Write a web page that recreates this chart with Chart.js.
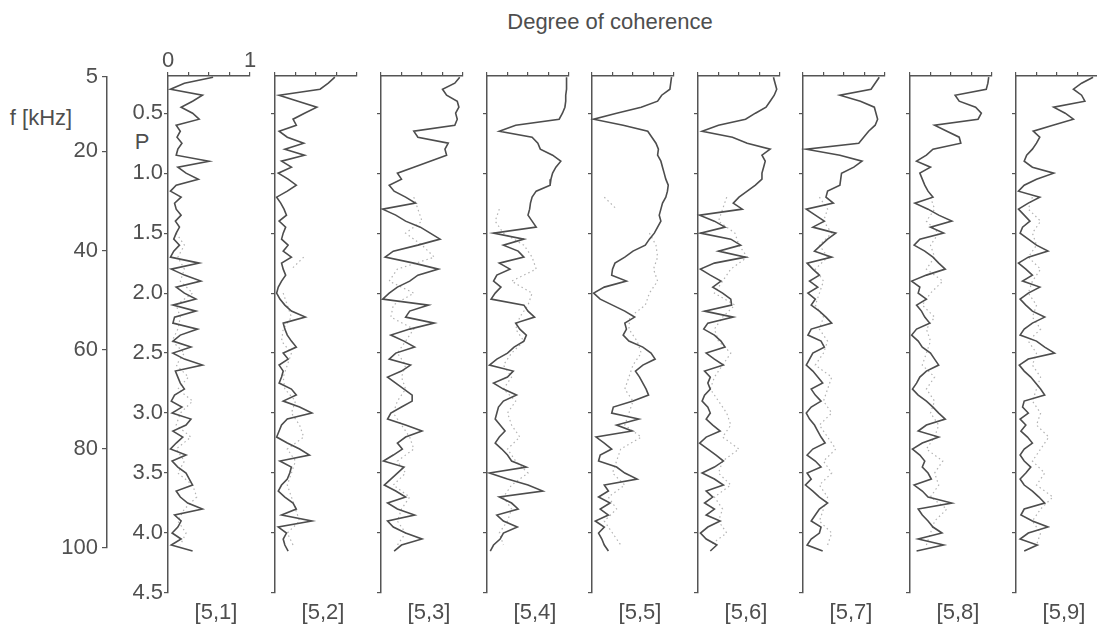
<!DOCTYPE html>
<html>
<head>
<meta charset="utf-8">
<script src="https://cdn.jsdelivr.net/npm/chart.js@4.4.1/dist/chart.umd.min.js"></script>
<style>
  body { margin: 0; background: #fff; width: 1097px; height: 630px; overflow: hidden; position: relative;
         font-family: Arial, "Liberation Sans", sans-serif; color: #4e4e4e; }
  .lbl { position: absolute; font-size: 22px; white-space: nowrap; transform: translate(-50%, -50%); }
  canvas { position: absolute; top: 0; }
</style>
</head>
<body>
<div class="lbl" style="left:610px;top:22px">Degree of coherence</div>
<div class="lbl" style="left:41px;top:118px">f [kHz]</div>
<div class="lbl" style="left:142px;top:142px">P</div>
<div id="panels"></div>

<script>
// panel names, shown under each strip
const panelNames = ['[5,1]', '[5,2]', '[5,3]', '[5,4]', '[5,5]', '[5,6]', '[5,7]', '[5,8]', '[5,9]'];

// P values (vertical axis) of the dark curves
const P = [0.20, 0.25, 0.30, 0.35, 0.40, 0.45, 0.50, 0.55, 0.60, 0.65,
           0.70, 0.75, 0.80, 0.85, 0.90, 0.95, 1.00, 1.05, 1.10, 1.15,
           1.20, 1.25, 1.30, 1.35, 1.40, 1.45, 1.50, 1.55, 1.60, 1.65,
           1.70, 1.75, 1.80, 1.85, 1.90, 1.95, 2.00, 2.05, 2.10, 2.15,
           2.20, 2.25, 2.30, 2.35, 2.40, 2.45, 2.50, 2.55, 2.60, 2.65,
           2.70, 2.75, 2.80, 2.85, 2.90, 2.95, 3.00, 3.05, 3.10, 3.15,
           3.20, 3.25, 3.30, 3.35, 3.40, 3.45, 3.50, 3.55, 3.60, 3.65,
           3.70, 3.75, 3.80, 3.85, 3.90, 3.95, 4.00, 4.05, 4.10, 4.15];

// P values of the faint dotted curves
const lightP = [1.2, 1.3, 1.4, 1.5, 1.6, 1.7, 1.8, 1.9, 2.0, 2.1,
                2.2, 2.3, 2.4, 2.5, 2.6, 2.7, 2.8, 2.9, 3.0, 3.1,
                3.2, 3.3, 3.4, 3.5, 3.6, 3.7, 3.8, 3.9, 4.0, 4.1, 4.2];

// tick labels
const pTicks = [0.5, 1.0, 1.5, 2.0, 2.5, 3.0, 3.5, 4.0, 4.5];
const fTicks = [5, 20, 40, 60, 80, 100];
const cohTicks = [0, 0.25, 0.5, 0.75, 1];

// degree of coherence, dark curves
const coh51 = [0.55,0.20,0.03,0.42,0.30,0.16,0.30,0.38,0.10,0.15,
               0.11,0.17,0.12,0.10,0.50,0.12,0.22,0.37,0.10,0.03,
               0.16,0.08,0.10,0.16,0.09,0.14,0.10,0.07,0.14,0.07,
               0.03,0.38,0.04,0.20,0.40,0.10,0.20,0.34,0.06,0.34,
               0.08,0.06,0.36,0.15,0.06,0.28,0.06,0.20,0.42,0.09,
               0.12,0.15,0.20,0.08,0.04,0.17,0.05,0.28,0.22,0.06,
               0.18,0.10,0.03,0.22,0.05,0.12,0.22,0.26,0.30,0.10,
               0.15,0.24,0.42,0.08,0.16,0.12,0.05,0.16,0.04,0.30];
const coh52 = [0.73,0.65,0.55,0.05,0.28,0.51,0.36,0.22,0.26,0.05,
               0.15,0.35,0.12,0.36,0.08,0.20,0.04,0.16,0.26,0.15,
               0.02,0.07,0.11,0.14,0.05,0.13,0.10,0.08,0.16,0.10,
               0.20,0.08,0.10,0.13,0.08,0.04,0.02,0.06,0.12,0.20,
               0.37,0.10,0.12,0.15,0.20,0.26,0.10,0.16,0.05,0.10,
               0.08,0.05,0.20,0.26,0.10,0.30,0.45,0.15,0.08,0.05,
               0.02,0.15,0.30,0.42,0.06,0.20,0.18,0.15,0.08,0.04,
               0.12,0.22,0.26,0.08,0.45,0.04,0.14,0.10,0.12,0.16];
const coh53 = [0.96,0.90,0.75,0.80,0.93,0.95,0.91,0.93,0.90,0.40,
               0.45,0.82,0.78,0.80,0.60,0.40,0.20,0.25,0.10,0.16,
               0.30,0.42,0.02,0.18,0.30,0.48,0.60,0.72,0.45,0.15,
               0.05,0.40,0.70,0.45,0.35,0.20,0.10,0.02,0.58,0.35,
               0.30,0.65,0.35,0.12,0.28,0.41,0.18,0.10,0.36,0.25,
               0.08,0.18,0.28,0.38,0.38,0.25,0.12,0.08,0.30,0.50,
               0.30,0.20,0.26,0.15,0.03,0.28,0.20,0.12,0.04,0.18,
               0.30,0.08,0.20,0.41,0.08,0.15,0.30,0.50,0.25,0.16];
const coh54 = [0.97,0.97,0.97,0.96,0.96,0.95,0.92,0.88,0.35,0.15,
               0.55,0.62,0.65,0.80,0.90,0.84,0.80,0.78,0.77,0.60,
               0.55,0.53,0.52,0.50,0.55,0.60,0.08,0.45,0.20,0.38,
               0.45,0.15,0.28,0.12,0.08,0.17,0.10,0.05,0.45,0.50,
               0.58,0.35,0.40,0.48,0.45,0.33,0.25,0.12,0.03,0.32,
               0.25,0.08,0.20,0.36,0.20,0.14,0.12,0.10,0.16,0.22,
               0.15,0.10,0.18,0.25,0.30,0.48,0.03,0.25,0.50,0.68,
               0.15,0.30,0.38,0.12,0.20,0.37,0.20,0.16,0.08,0.04];
const coh55 = [0.97,0.96,0.95,0.85,0.80,0.60,0.30,0.02,0.38,0.68,
               0.73,0.78,0.81,0.80,0.84,0.86,0.88,0.90,0.93,0.92,
               0.90,0.86,0.84,0.82,0.84,0.80,0.76,0.70,0.65,0.50,
               0.40,0.28,0.25,0.24,0.42,0.15,0.02,0.10,0.25,0.40,
               0.52,0.40,0.42,0.38,0.45,0.62,0.72,0.77,0.62,0.53,
               0.58,0.62,0.66,0.69,0.50,0.26,0.24,0.57,0.30,0.49,
               0.05,0.15,0.24,0.10,0.08,0.30,0.40,0.55,0.15,0.20,
               0.08,0.22,0.10,0.20,0.04,0.15,0.08,0.12,0.15,0.20];
const coh56 = [0.92,0.94,0.96,0.93,0.88,0.83,0.70,0.58,0.25,0.05,
               0.42,0.60,0.88,0.78,0.82,0.80,0.78,0.78,0.70,0.60,
               0.50,0.43,0.54,0.02,0.20,0.33,0.03,0.40,0.52,0.25,
               0.58,0.20,0.03,0.15,0.28,0.18,0.30,0.40,0.41,0.08,
               0.43,0.12,0.07,0.20,0.28,0.33,0.10,0.20,0.31,0.08,
               0.15,0.12,0.15,0.08,0.05,0.12,0.15,0.10,0.18,0.27,
               0.10,0.02,0.12,0.22,0.31,0.20,0.05,0.20,0.31,0.10,
               0.18,0.08,0.20,0.10,0.27,0.12,0.03,0.10,0.23,0.15];
const coh57 = [0.93,0.88,0.83,0.45,0.70,0.87,0.89,0.91,0.88,0.80,
               0.74,0.68,0.04,0.45,0.72,0.62,0.47,0.46,0.45,0.30,
               0.28,0.37,0.04,0.15,0.26,0.12,0.40,0.30,0.22,0.14,
               0.35,0.05,0.12,0.20,0.08,0.18,0.06,0.15,0.10,0.20,
               0.28,0.35,0.10,0.06,0.22,0.26,0.12,0.08,0.04,0.12,
               0.18,0.24,0.10,0.15,0.22,0.10,0.04,0.08,0.14,0.18,
               0.22,0.27,0.12,0.05,0.15,0.22,0.05,0.10,0.03,0.12,
               0.20,0.30,0.20,0.15,0.10,0.22,0.20,0.10,0.05,0.24];
const coh58 = [0.96,0.95,0.93,0.55,0.60,0.80,0.87,0.83,0.30,0.45,
               0.60,0.62,0.28,0.20,0.08,0.25,0.12,0.15,0.18,0.22,
               0.28,0.06,0.22,0.35,0.51,0.25,0.41,0.12,0.05,0.18,
               0.28,0.35,0.43,0.20,0.02,0.12,0.10,0.20,0.08,0.14,
               0.18,0.24,0.08,0.02,0.10,0.15,0.25,0.30,0.35,0.20,
               0.12,0.08,0.03,0.10,0.20,0.28,0.35,0.43,0.20,0.10,
               0.35,0.15,0.03,0.12,0.18,0.15,0.22,0.26,0.05,0.15,
               0.22,0.51,0.10,0.15,0.22,0.28,0.39,0.10,0.41,0.08];
const coh59 = [0.94,0.80,0.70,0.80,0.84,0.46,0.60,0.70,0.45,0.21,
               0.29,0.25,0.20,0.13,0.10,0.20,0.46,0.25,0.10,0.03,
               0.29,0.15,0.03,0.10,0.17,0.08,0.05,0.15,0.25,0.39,
               0.15,0.03,0.12,0.20,0.08,0.29,0.15,0.05,0.12,0.20,
               0.35,0.20,0.10,0.05,0.25,0.35,0.47,0.15,0.04,0.10,
               0.18,0.24,0.30,0.35,0.10,0.08,0.15,0.05,0.12,0.06,
               0.14,0.20,0.10,0.05,0.10,0.18,0.12,0.05,0.10,0.20,
               0.28,0.35,0.10,0.06,0.20,0.39,0.15,0.05,0.26,0.10];

// faint dotted curves (null where nothing is visible)
const faint51 = [null,null,null,0.10,0.20,0.12,0.20,0.15,0.30,0.10,
                 0.15,0.12,0.05,0.20,0.10,0.25,0.12,0.30,0.15,0.10,
                 0.28,0.10,0.20,0.12,0.30,0.35,0.20,0.12,0.22,0.15,null];
const faint52 = [null,0.30,null,null,null,0.35,0.20,null,0.10,0.15,
                 0.20,0.10,0.08,0.20,0.15,0.10,0.12,0.25,0.20,0.30,
                 0.35,0.15,0.25,0.20,0.15,0.20,0.25,0.30,0.15,0.22,null];
const faint53 = [0.40,0.45,0.50,0.30,0.50,0.65,0.20,0.10,0.40,0.15,
                 0.12,0.40,0.30,0.20,0.30,0.25,0.30,0.20,0.15,0.25,
                 0.35,0.40,0.20,0.30,0.15,0.35,0.25,0.20,0.30,0.20,null];
const faint54 = [null,0.15,0.10,0.20,0.45,0.55,0.60,0.30,0.55,0.50,
                 0.40,0.35,0.45,0.30,0.20,0.30,0.20,0.35,0.25,0.30,
                 0.40,0.25,0.35,0.50,0.30,0.20,0.30,0.25,0.15,0.20,null];
const faint55 = [0.15,0.30,null,0.70,0.78,0.80,0.75,0.80,0.70,0.65,
                 0.46,0.45,0.55,0.60,0.50,0.45,0.40,0.50,0.45,0.40,
                 0.60,0.35,0.30,0.25,0.40,0.20,0.30,0.15,0.25,0.35,null];
const faint56 = [0.35,0.30,0.25,0.45,0.50,0.60,0.40,0.30,0.20,0.45,
                 0.30,0.20,0.25,0.40,0.30,0.20,0.15,0.25,0.35,0.40,
                 0.30,0.50,0.30,0.25,0.40,0.20,0.30,0.25,0.35,0.15,null];
const faint57 = [0.20,0.30,0.25,0.35,0.20,0.30,0.15,0.25,0.20,0.15,
                 0.25,0.20,0.30,0.25,0.15,0.35,0.30,0.25,0.35,0.20,
                 0.30,0.40,0.25,0.35,0.20,0.30,0.25,0.20,0.35,0.30,null];
const faint58 = [0.25,0.30,0.20,0.35,0.25,0.30,0.20,0.40,0.25,0.15,
                 0.30,0.20,0.25,0.20,0.15,0.30,0.20,0.30,0.25,0.35,
                 0.30,0.20,0.40,0.30,0.35,0.25,0.45,0.30,0.25,0.20,null];
const faint59 = [0.20,0.15,0.30,0.20,0.25,0.15,0.30,0.20,0.15,0.25,
                 0.20,0.30,0.15,0.25,0.20,0.30,0.25,0.20,0.30,0.25,
                 0.40,0.30,0.20,0.35,0.25,0.45,0.30,0.20,0.30,0.25,null];

const darkCurves = [coh51, coh52, coh53, coh54, coh55, coh56, coh57, coh58, coh59];
const faintCurves = [faint51, faint52, faint53, faint54, faint55, faint56, faint57, faint58, faint59];

// page layout (pixels)
const panelLeft = [168, 275, 381, 487, 592, 698, 803, 910, 1016];
const panelW = 82;
const plotTop = 76, plotBottom = 593;
const fTop = 77, fBottom = 548, fAxisX = 107;

const INK = '#505050';
Chart.defaults.font.family = 'Arial, "Liberation Sans", sans-serif';
Chart.defaults.font.size = 22;
Chart.defaults.color = INK;
Chart.defaults.animation = false;

const holder = document.getElementById('panels');

function makeCanvas(left, width) {
  const c = document.createElement('canvas');
  c.width = width; c.height = 630;
  c.style.left = left + 'px';
  c.style.width = width + 'px'; c.style.height = '630px';
  holder.appendChild(c);
  return c;
}

function panelChart(k) {
  const first = k === 0;
  const yw = first ? 60 : 8;
  const padR = 10;
  const canvas = makeCanvas(panelLeft[k] - yw, yw + panelW + padR);

  const dark = darkCurves[k].map((v, i) => ({ x: v, y: P[i] }));
  const faint = faintCurves[k].map((v, i) => ({ x: v, y: lightP[i] }));

  new Chart(canvas, {
    type: 'scatter',
    data: {
      datasets: [
        { data: dark, showLine: true, borderColor: '#4d4d4d', borderWidth: 1.6,
          pointRadius: 0, tension: 0, clip: 6 },
        { data: faint, showLine: true, borderColor: '#b3b3b3', borderWidth: 1.2,
          borderDash: [1.5, 3], pointRadius: 0, spanGaps: false, clip: 6 }
      ]
    },
    options: {
      responsive: false,
      layout: { padding: { top: 0, bottom: 630 - plotBottom, left: 0, right: padR } },
      plugins: { legend: { display: false }, tooltip: { enabled: false } },
      scales: {
        x: {
          type: 'linear', position: 'top', min: 0, max: 1,
          afterFit: s => { s.height = plotTop; },
          afterBuildTicks: s => { s.ticks = cohTicks.map(v => ({ value: v })); },
          grid: { drawOnChartArea: false, drawTicks: true, tickLength: 4, color: '#555', lineWidth: 1.2 },
          border: { display: true, color: '#555', width: 1.5 },
          ticks: { padding: -2, maxRotation: 0,
                   callback: v => first ? (v === 0 ? '0' : v === 1 ? '1' : '') : '' }
        },
        y: {
          type: 'linear', position: 'left', reverse: true, min: 0.19, max: 4.5,
          afterFit: s => { s.width = yw; },
          afterBuildTicks: s => { s.ticks = pTicks.map(v => ({ value: v })); },
          grid: { drawOnChartArea: false, drawTicks: true, tickLength: 4, color: '#555', lineWidth: 1.2 },
          border: { display: true, color: '#555', width: 1.5 },
          ticks: { padding: 1, callback: v => first ? v.toFixed(1) : '' }
        }
      }
    }
  });

  const lbl = document.createElement('div');
  lbl.className = 'lbl';
  lbl.style.left = (panelLeft[k] + 48) + 'px';
  lbl.style.top = '612px';
  lbl.textContent = panelNames[k];
  holder.appendChild(lbl);
}

// frequency axis on the far left
function freqAxis() {
  const canvas = makeCanvas(0, fAxisX + 6);
  new Chart(canvas, {
    type: 'scatter',
    data: { datasets: [{ data: [] }] },
    options: {
      responsive: false,
      layout: { padding: { top: fTop, bottom: 630 - fBottom, left: 0, right: 0 } },
      plugins: { legend: { display: false }, tooltip: { enabled: false } },
      scales: {
        x: { display: false, min: 0, max: 1 },
        y: {
          type: 'linear', position: 'left', reverse: true, min: 5, max: 100,
          afterFit: s => { s.width = fAxisX; },
          afterBuildTicks: s => { s.ticks = fTicks.map(v => ({ value: v })); },
          grid: { drawOnChartArea: false, drawTicks: true, tickLength: 5, color: '#555', lineWidth: 1.2 },
          border: { display: true, color: '#555', width: 1.5 },
          ticks: { padding: 4 }
        }
      }
    }
  });
}

freqAxis();
for (let k = 0; k < panelNames.length; k++) panelChart(k);
</script>
</body>
</html>
